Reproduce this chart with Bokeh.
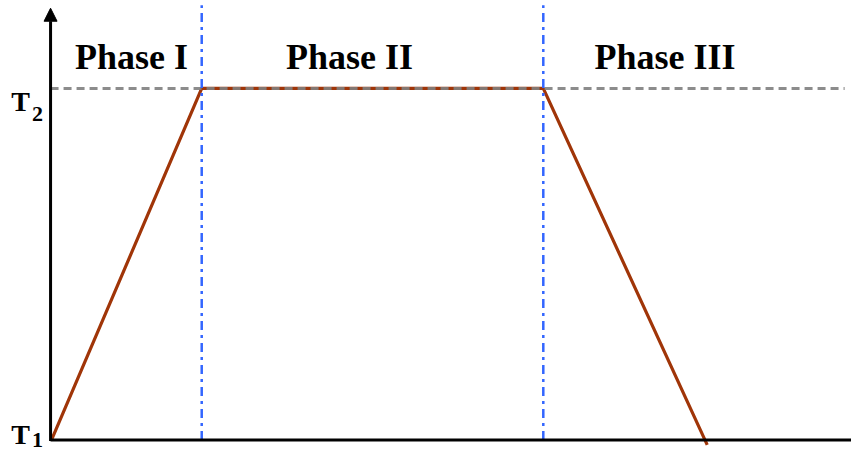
from bokeh.plotting import figure
from bokeh.models import Range1d, Arrow, NormalHead
from bokeh.core.properties import value
from bokeh.embed import file_html
from bokeh.resources import INLINE

# ---- data (time and temperature in arbitrary units) ----
profile_time = [1, 154, 502, 669]          # start, end of heating, end of hold, end of cooling
profile_temp = [0, 364, 364, -5]           # T1 ... T2 ... T2 ... T1
phase_bounds = [154, 502]                  # phase boundaries (time)
T1_level = 0
T2_level = 364
phase_labels = ["Phase I", "Phase II", "Phase III"]
level_labels = ["T", "T"]
level_subs = ["2", "1"]

FONT = value("Liberation Serif")

p = figure(width=851, height=453, output_backend="svg", toolbar_location=None,
           x_range=Range1d(-51, 816), y_range=Range1d(-14, 455),
           min_border=0, min_border_left=0, min_border_right=0,
           min_border_top=0, min_border_bottom=0)
p.xaxis.visible = False
p.yaxis.visible = False
p.xgrid.visible = False
p.ygrid.visible = False
p.outline_line_color = None
p.background_fill_color = "white"
p.border_fill_color = "white"

# temperature profile
p.line(profile_time, profile_temp, line_color="#A03508", line_width=3.2)

# T2 reference line (dashed grey) drawn over the profile
p.line([0, 809], [T2_level, T2_level], line_color="#808080", line_width=3,
       line_dash="8 5", line_alpha=0.9)

# phase boundaries (blue dash-dot)
for xb in phase_bounds:
    p.line([xb, xb], [T1_level, 450], line_color="#3366FF", line_width=2.5,
           line_dash="9 5 3 5")

# axes with arrows
p.add_layout(Arrow(x_start=0, y_start=-1, x_end=0, y_end=447, line_width=3,
                   line_color="black",
                   end=NormalHead(size=13, fill_color="black", line_color="black", line_width=1)))
p.line([0, 816], [T1_level, T1_level], line_color="black", line_width=3)

# phase labels
p.text(x=[82.5, 304.5, 626], y=[396] * 3, text=phase_labels, text_font=FONT,
       text_font_style="bold", text_font_size="36px", text_align="center",
       text_baseline="alphabetic", text_color="black")

# level labels T2 and T1
p.text(x=[-40, -40], y=[350, 6], text=level_labels, text_font=FONT,
       text_font_style="bold", text_font_size="28px", text_align="left",
       text_baseline="alphabetic", text_color="black")
p.text(x=[-19, -19], y=[338, 0], text=level_subs, text_font=FONT,
       text_font_style="bold", text_font_size="22px", text_align="left",
       text_baseline="alphabetic", text_color="black")

open("out.html", "w").write(file_html(p, INLINE))
